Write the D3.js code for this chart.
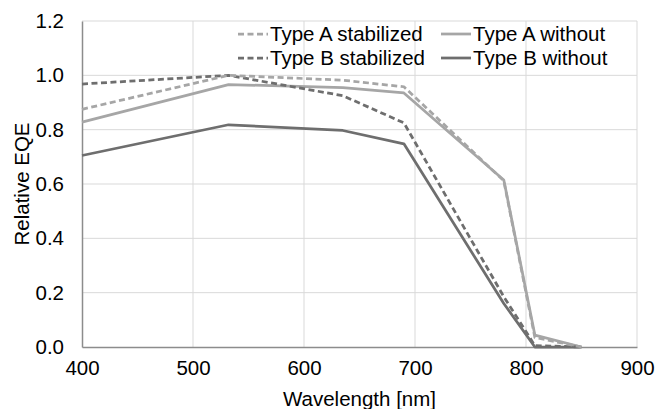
<!DOCTYPE html>
<html><head><meta charset="utf-8">
<script src="https://cdn.jsdelivr.net/npm/d3@7"></script>
<style>body{margin:0;background:#fff}svg{display:block;font-family:"Liberation Sans",Arial,sans-serif}</style>
</head><body><svg id="c" width="657" height="409"></svg>
<script>
const wavelengths = [400, 532, 635, 690, 780, 808, 850];
const typeAStabilized = [0.875, 1.0, 0.982, 0.958, 0.612, 0.035, 0.0];
const typeAWithout    = [0.828, 0.966, 0.955, 0.935, 0.615, 0.044, 0.0];
const typeBStabilized = [0.968, 1.0, 0.925, 0.825, 0.185, 0.005, 0.0];
const typeBWithout    = [0.705, 0.818, 0.797, 0.748, 0.16, 0.0, 0.0];
const xTicks = [400, 500, 600, 700, 800, 900];
const yTicks = [0, 0.2, 0.4, 0.6, 0.8, 1.0, 1.2];

const series = [
  {name:"Type A stabilized", values:typeAStabilized, color:"#a6a6a6", dash:"6,3.5"},
  {name:"Type A without", values:typeAWithout, color:"#a6a6a6", dash:null},
  {name:"Type B stabilized", values:typeBStabilized, color:"#6e6e6e", dash:"6,3.5"},
  {name:"Type B without", values:typeBWithout, color:"#6e6e6e", dash:null}
];

const FS = 20.5;
const svg = d3.select("#c");
const L=82, R=637, T=21, B=347;
const x = d3.scaleLinear().domain([400,900]).range([L,R]);
const y = d3.scaleLinear().domain([0,1.2]).range([B,T]);

// gridlines
svg.append("g").selectAll("line").data(yTicks.slice(1)).join("line")
  .attr("x1",L).attr("x2",R).attr("y1",d=>y(d)).attr("y2",d=>y(d))
  .attr("stroke","#d9d9d9").attr("stroke-width",1);
svg.append("g").selectAll("line").data(xTicks.slice(1)).join("line")
  .attr("y1",T).attr("y2",B).attr("x1",d=>x(d)).attr("x2",d=>x(d))
  .attr("stroke","#d9d9d9").attr("stroke-width",1);

// axes
const xAxis = d3.axisBottom(x).tickValues(xTicks).tickSize(0).tickPadding(13).tickFormat(d3.format("d"));
const gx = svg.append("g").attr("transform",`translate(0,${B})`).call(xAxis);
gx.select(".domain").attr("stroke","#8c8c8c").attr("stroke-width",1.5);
gx.selectAll("text").attr("font-size",FS).attr("fill","#000").attr("font-family","Liberation Sans, Arial, sans-serif");

const yAxis = d3.axisLeft(y).tickValues(yTicks).tickSize(0).tickPadding(18).tickFormat(d3.format(".1f"));
const gy = svg.append("g").attr("transform",`translate(${L},0)`).call(yAxis);
gy.select(".domain").attr("stroke","#8c8c8c").attr("stroke-width",1.5);
gy.selectAll("text").attr("font-size",FS).attr("fill","#000").attr("font-family","Liberation Sans, Arial, sans-serif");

// titles
svg.append("text").attr("x",(L+R)/2).attr("y",406).attr("text-anchor","middle")
  .attr("font-size",FS).text("Wavelength [nm]");
svg.append("text").attr("transform",`translate(29,${(T+B)/2}) rotate(-90)`).attr("text-anchor","middle")
  .attr("font-size",FS).text("Relative EQE");

// lines
const line = d3.line().x((d,i)=>x(wavelengths[i])).y(d=>y(d));
const order = [3,1,2,0];
order.forEach(k=>{
  const s = series[k];
  svg.append("path").datum(s.values).attr("d",line)
    .attr("fill","none").attr("stroke",s.color).attr("stroke-width",2.75)
    .attr("stroke-dasharray",s.dash).attr("stroke-linejoin","round");
});

// legend
const legPos = [[238,34],[441,34],[238,58],[441,58]];
series.forEach((s,i)=>{
  const [lx,ly]=legPos[i];
  svg.append("line").attr("x1",lx).attr("x2",lx+30).attr("y1",ly).attr("y2",ly)
    .attr("stroke",s.color).attr("stroke-width",2.75).attr("stroke-dasharray",s.dash);
  svg.append("text").attr("x",lx+32).attr("y",ly+7).attr("font-size",FS).text(s.name);
});
</script></body></html>
